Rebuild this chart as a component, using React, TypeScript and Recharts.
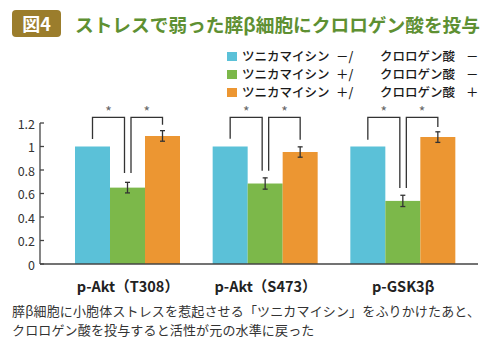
import React from 'react';
import { BarChart, Bar, XAxis, YAxis, ErrorBar } from 'recharts';

const categories = ['p-Akt（T308）', 'p-Akt（S473）', 'p-GSK3β'];
const tmNegCgaNeg = [1, 1, 1];
const tmPosCgaNeg = [0.65, 0.685, 0.537];
const tmPosCgaPos = [1.09, 0.953, 1.08];
const errTmPosCgaNeg = [0.045, 0.048, 0.048];
const errTmPosCgaPos = [0.045, 0.044, 0.045];
const yTicks = [0, 0.2, 0.4, 0.6, 0.8, 1, 1.2];

// significance brackets (* p<0.05): top of bracket and where each leg stops
const bracketTop = [1.248, 1.248, 1.248];
const bracketEndBlue = [1.063, 1.067, 1.058];
const bracketEndGreen = [0.774, 0.794, 0.646];
const bracketEndOrange = [1.186, 1.058, 1.166];
const starLevel = 1.3;

const legendColors = ['#5bc1d8', '#7cb84a', '#ec9632'];
const legendTm = ['－/', '＋/', '＋/'];
const legendCga = ['－', '－', '＋'];

const FONT = '"Noto Sans CJK JP", "Noto Sans", sans-serif';
const INK = '#333';

const data = categories.map((name, i) => ({
  name,
  blue: tmNegCgaNeg[i],
  green: tmPosCgaNeg[i],
  orange: tmPosCgaPos[i],
  greenErr: errTmPosCgaNeg[i],
  orangeErr: errTmPosCgaPos[i],
  top: bracketTop[i],
  endBlue: bracketEndBlue[i],
  endGreen: bracketEndGreen[i],
  endOrange: bracketEndOrange[i],
}));

// green bar sits in the middle, so it also draws the two brackets of its group
// eslint-disable-next-line @typescript-eslint/no-explicit-any
function GreenWithBrackets(props: any) {
  const { x, y, width, height, fill, payload } = props;
  const base = y + height;
  const k = height / payload.green;
  const toY = (v: number) => base - v * k;
  const blueX = x - width / 2;
  const greenL = x + width / 2 - 3;
  const greenR = x + width / 2 + 3.5;
  const orangeX = x + width * 1.5;
  const topY = toY(payload.top);
  const starY = toY(starLevel);
  const line = { stroke: INK, strokeWidth: 1.3, fill: 'none' };
  return (
    <g>
      <rect x={x} y={y} width={width} height={height} fill={fill} />
      <polyline
        {...line}
        points={`${blueX},${toY(payload.endBlue)} ${blueX},${topY} ${greenL},${topY} ${greenL},${toY(payload.endGreen)}`}
      />
      <polyline
        {...line}
        points={`${greenR},${toY(payload.endGreen)} ${greenR},${topY} ${orangeX},${topY} ${orangeX},${toY(payload.endOrange)}`}
      />
      <text x={(blueX + greenL) / 2} y={starY + 5.5} textAnchor="middle" fontSize={14} fill="#666" fontFamily={FONT}>*</text>
      <text x={(greenR + orangeX) / 2} y={starY + 5.5} textAnchor="middle" fontSize={14} fill="#666" fontFamily={FONT}>*</text>
    </g>
  );
}

// eslint-disable-next-line @typescript-eslint/no-explicit-any
function YTick({ x, y, payload }: any) {
  return (
    <g>
      <line x1={x + 5} x2={x + 9} y1={y} y2={y} stroke="#444" strokeWidth={1.3} />
      <text x={x} y={y} textAnchor="end" dominantBaseline="central" fontSize={12.5} fill={INK} fontFamily={FONT}>
        {String(payload.value)}
      </text>
    </g>
  );
}

// eslint-disable-next-line @typescript-eslint/no-explicit-any
function XTick({ x, y, payload }: any) {
  return (
    <text x={x} y={y + 21} textAnchor="middle" dominantBaseline="central" fontSize={14.5} fontWeight={700} fill="#222" fontFamily={FONT}>
      {payload.value}
    </text>
  );
}

export default function App() {
  return (
    <div style={{ position: 'absolute', left: 0, top: 0, width: 490, height: 348, background: '#fff', fontFamily: FONT }}>
      <div style={{
        position: 'absolute', left: 12, top: 10, width: 49, height: 27, background: '#9b7d2c',
        borderRadius: 4, color: '#fff', fontWeight: 700, fontSize: 18, lineHeight: '27px', textAlign: 'center',
      }}>
        図4
      </div>
      <div style={{
        position: 'absolute', left: 75, top: 10, height: 27, lineHeight: '27px', fontSize: 18.7,
        fontWeight: 700, color: '#5e9032', whiteSpace: 'nowrap',
      }}>
        ストレスで弱った膵β細胞にクロロゲン酸を投与
      </div>

      {legendColors.map((c, i) => (
        <div key={i} style={{ position: 'absolute', left: 227, top: 48 + i * 18, height: 16, width: 260, fontSize: 12.5, color: '#1a1a1a', fontWeight: 500 }}>
          <div style={{ position: 'absolute', left: 0, top: 3.5, width: 9.5, height: 9.5, background: c }} />
          <span style={{ position: 'absolute', left: 15, lineHeight: '16px', whiteSpace: 'nowrap' }}>ツニカマイシン</span>
          <span style={{ position: 'absolute', left: 109, lineHeight: '16px', whiteSpace: 'nowrap' }}>{legendTm[i]}</span>
          <span style={{ position: 'absolute', left: 153, lineHeight: '16px', whiteSpace: 'nowrap' }}>クロロゲン酸</span>
          <span style={{ position: 'absolute', left: 239, lineHeight: '16px', whiteSpace: 'nowrap' }}>{legendCga[i]}</span>
        </div>
      ))}

      <div style={{ position: 'absolute', left: 0, top: 0 }}>
        <BarChart
          width={490}
          height={300}
          data={data}
          margin={{ top: 123, right: 12, left: 10, bottom: 6 }}
          barGap={0}
          barSize={35}
        >
          <XAxis
            dataKey="name"
            height={30}
            padding={{ left: 19, right: 6 }}
            tickLine={false}
            tickSize={0}
            tickMargin={0}
            axisLine={{ stroke: '#444', strokeWidth: 1.3 }}
            tick={<XTick />}
            interval={0}
          />
          <YAxis
            width={30}
            domain={[0, 1.2]}
            ticks={yTicks}
            tickLine={false}
            tickSize={0}
            tickMargin={5}
            axisLine={{ stroke: '#444', strokeWidth: 1.3 }}
            tick={<YTick />}
            interval={0}
          />
          <Bar dataKey="blue" fill={legendColors[0]} isAnimationActive={false} />
          <Bar dataKey="green" fill={legendColors[1]} shape={<GreenWithBrackets />} isAnimationActive={false}>
            <ErrorBar dataKey="greenErr" width={2.5} stroke={INK} strokeWidth={1.3} />
          </Bar>
          <Bar dataKey="orange" fill={legendColors[2]} isAnimationActive={false}>
            <ErrorBar dataKey="orangeErr" width={2.5} stroke={INK} strokeWidth={1.3} />
          </Bar>
        </BarChart>
      </div>

      <div style={{ position: 'absolute', left: 12, top: 301, fontSize: 13, lineHeight: '19px', color: INK, whiteSpace: 'nowrap', letterSpacing: 0.15 }}>
        膵β細胞に小胞体ストレスを惹起させる「ツニカマイシン」をふりかけたあと、<br />
        クロロゲン酸を投与すると活性が元の水準に戻った
      </div>
    </div>
  );
}
